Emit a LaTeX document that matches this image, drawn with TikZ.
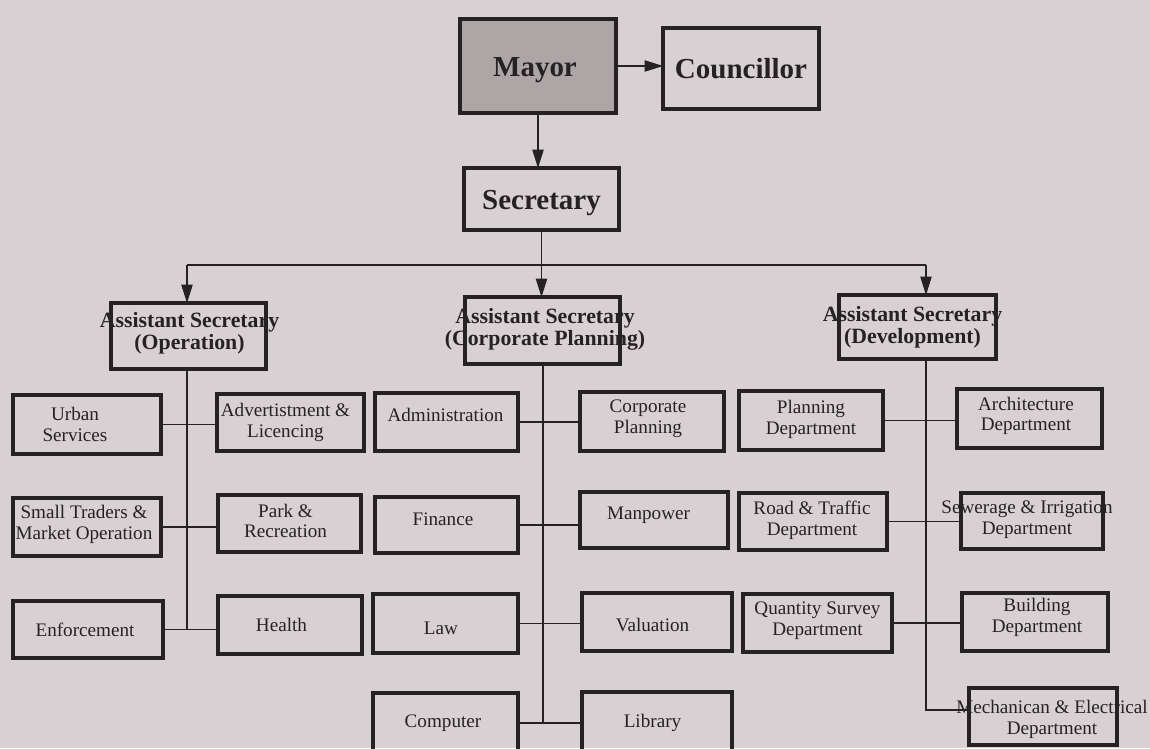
\documentclass[tikz,border=0pt]{standalone}
\usepackage{fontspec}
\setmainfont{Liberation Serif}
\usetikzlibrary{arrows.meta}

\definecolor{paper}{RGB}{216,209,211}
\definecolor{ink}{RGB}{38,34,36}
\definecolor{mayorfill}{RGB}{172,166,167}

% #1 text style, #2 name, #3,#4 centre, #5,#6 size, #7,#8 text offset, #9 text
\newcommand\orgbox[9]{%
  \node[#1] at ({#3+(#7)},{#4+(#8)}) {#9};
  \node[box, minimum width={#5*0.02cm}, minimum height={#6*0.02cm}] (#2) at (#3,#4) {};
}

\tikzset{
  box/.style={draw=ink, line width=1.9pt, inner sep=0pt, outer sep=0pt},
  txt/.style={font=\fontsize{10.9}{11.8}\selectfont, text=ink, align=center, inner sep=0pt},
  headtop/.style={font=\fontsize{16.5}{18}\selectfont\bfseries, text=ink, align=center, inner sep=0pt},
  headmid/.style={font=\fontsize{12.4}{12.6}\selectfont\bfseries, text=ink, align=center, inner sep=0pt},
  link/.style={draw=ink, line width=0.6pt},
  arr/.style={link, -{Triangle[length=10.5pt,width=6.5pt]}},
}

\begin{document}
\begin{tikzpicture}[x=0.02cm, y=-0.02cm]
  \useasboundingbox (0,0) rectangle (1150,748);
  \clip (0,0) rectangle (1150,748);
  \fill[paper] (0,0) rectangle (1150,748);

  % trunk positions
  \coordinate (bus) at (0,265);
  \coordinate (opx) at (187,0);
  \coordinate (cpx) at (543,0);
  \coordinate (dvx) at (926,0);
  \coordinate (mechrow) at (0,710);

  % top level
  \node[box, fill=mayorfill, minimum width={156*0.02cm}, minimum height={94*0.02cm}] (mayor) at (538,66) {};
  \node[headtop] at (535,70) {Mayor};
  \orgbox{headtop}{councillor}{741}{68.5}{156}{81}{0}{0}{Councillor}
  \orgbox{headtop}{secretary}{541.5}{199}{155}{62}{0}{4}{Secretary}

  % assistant secretaries
  \orgbox{headmid}{aop}{188.5}{336}{155}{66}{1}{-2.5}{Assistant Secretary\\(Operation)}
  \orgbox{headmid}{acorp}{542.5}{330.5}{155}{67}{2.5}{-1.5}{Assistant Secretary\\(Corporate Planning)}
  \orgbox{headmid}{adev}{917.5}{327}{157}{64}{-5}{0}{Assistant Secretary\\(Development)}

  % operation
  \orgbox{txt}{urban}{87}{424.5}{148}{59}{-12}{0}{Urban\\Services}
  \orgbox{txt}{advert}{290.5}{422.5}{147}{57}{-5}{0}{Advertistment \&\\Licencing}
  \orgbox{txt}{traders}{87}{527}{148}{58}{-3}{-2.5}{Small Traders \&\\Market Operation}
  \orgbox{txt}{park}{289.5}{523.5}{143}{57}{-4}{-2.5}{Park \&\\Recreation}
  \orgbox{txt}{enforce}{88}{629.5}{150}{57}{-3}{0}{Enforcement}
  \orgbox{txt}{health}{290}{625}{144}{58}{-8.5}{0}{Health}

  % corporate planning
  \orgbox{txt}{admin}{446.5}{422}{143}{58}{-1}{-7}{Administration}
  \orgbox{txt}{corpplan}{652}{421.5}{144}{59}{-4}{-3}{Corporate\\Planning}
  \orgbox{txt}{finance}{446.5}{525}{143}{56}{-3.5}{-6}{Finance}
  \orgbox{txt}{manpower}{654}{520}{148}{56}{-5.5}{-5}{Manpower}
  \orgbox{txt}{law}{445.5}{623.5}{145}{59}{-4.5}{4.5}{Law}
  \orgbox{txt}{valuation}{657}{622}{150}{58}{-4.5}{3}{Valuation}
  \orgbox{txt}{computer}{445.5}{723}{145}{60}{-2.5}{0}{Computer}
  \orgbox{txt}{library}{657}{722}{150}{60}{-4.5}{1}{Library}

  % development
  \orgbox{txt}{planning}{811}{420.5}{144}{59}{0}{-1}{Planning\\Department}
  \orgbox{txt}{architecture}{1029.5}{418.5}{145}{59}{-3.5}{-2.5}{Architecture\\Department}
  \orgbox{txt}{road}{813}{521.5}{148}{57}{-1}{-1.5}{Road \& Traffic\\Department}
  \orgbox{txt}{sewerage}{1032}{521}{142}{56}{-5}{-1.5}{Sewerage \& Irrigation\\Department}
  \orgbox{txt}{quantity}{817.5}{623}{149}{58}{0}{-2}{Quantity Survey\\Department}
  \orgbox{txt}{building}{1035}{622}{146}{58}{2}{-4.5}{Building\\Department}
  \orgbox{txt}{mech}{1043}{716.5}{148}{57}{9}{3}{Mechanican \& Electrical\\Department}

  % top connectors
  \draw[arr] (mayor.east) -- (mayor.east -| councillor.west);
  \draw[arr] (mayor.south) -- (mayor.south |- secretary.north);
  \draw[arr] (secretary.south) -- (secretary.south |- acorp.north);
  \draw[link] (opx |- bus) -- (dvx |- bus);
  \draw[arr] (opx |- bus) -- (opx |- aop.north);
  \draw[arr] (dvx |- bus) -- (dvx |- adev.north);

  % operation branch
  \draw[link] (opx |- aop.south) -- (opx |- enforce.east);
  \draw[link] (urban.east) -- (urban.east -| advert.west);
  \draw[link] (traders.east) -- (traders.east -| park.west);
  \draw[link] (enforce.east) -- (enforce.east -| health.west);

  % corporate planning branch
  \draw[link] (cpx |- acorp.south) -- (cpx |- computer.east);
  \draw[link] (admin.east) -- (admin.east -| corpplan.west);
  \draw[link] (finance.east) -- (finance.east -| manpower.west);
  \draw[link] (law.east) -- (law.east -| valuation.west);
  \draw[link] (computer.east) -- (computer.east -| library.west);

  % development branch
  \draw[link] (dvx |- adev.south) -- (dvx |- mechrow) -- (mech.west |- mechrow);
  \draw[link] (planning.east) -- (planning.east -| architecture.west);
  \draw[link] (road.east) -- (road.east -| sewerage.west);
  \draw[link] (quantity.east) -- (quantity.east -| building.west);
\end{tikzpicture}
\end{document}
